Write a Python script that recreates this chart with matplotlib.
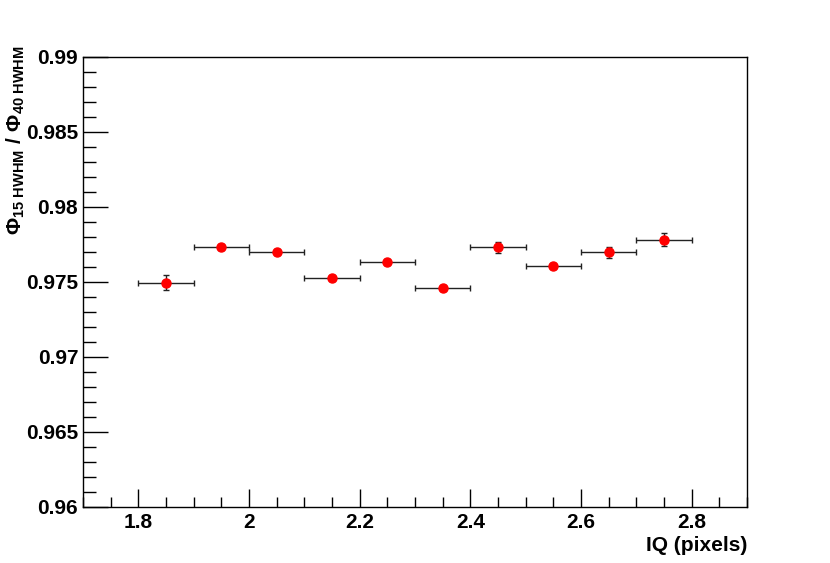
import matplotlib
matplotlib.use("Agg")
import matplotlib.pyplot as plt
from matplotlib.ticker import MultipleLocator

# IQ bin centres and half widths
iq = [1.85, 1.95, 2.05, 2.15, 2.25, 2.35, 2.45, 2.55, 2.65, 2.75]
iq_err = [0.05] * 10

# HWHM ratio and its error
ratio = [0.97493, 0.97731, 0.97702, 0.97524, 0.97636,
         0.97458, 0.97731, 0.97609, 0.97698, 0.97782]
ratio_err = [0.0005, 0.0002, 0.0002, 0.0002, 0.0002,
             0.0002, 0.00036, 0.0002, 0.00037, 0.00042]

plt.rcParams["font.family"] = ["Liberation Sans", "DejaVu Sans"]
plt.rcParams["font.weight"] = "bold"
plt.rcParams["mathtext.fontset"] = "custom"
plt.rcParams["mathtext.rm"] = "Liberation Sans:bold"
plt.rcParams["mathtext.it"] = "Liberation Sans:bold"
plt.rcParams["mathtext.bf"] = "Liberation Sans:bold"

fig = plt.figure(figsize=(8.3, 5.63), dpi=100)
ax = fig.add_axes([0.1, 0.0995, 0.8, 0.7995])

ax.errorbar(iq, ratio, xerr=iq_err, yerr=ratio_err, fmt="o",
            color="red", markersize=6.5, ecolor="#222222",
            elinewidth=1.0, capsize=2.5, capthick=1.0)

ax.set_xlim(1.7, 2.9)
ax.set_ylim(0.96, 0.99)
ax.xaxis.set_minor_locator(MultipleLocator(0.05))
ax.yaxis.set_minor_locator(MultipleLocator(0.001))
ax.set_xticks([1.8, 2.0, 2.2, 2.4, 2.6, 2.8])
ax.set_xticklabels(["1.8", "2", "2.2", "2.4", "2.6", "2.8"])
ax.set_yticks([0.96, 0.965, 0.97, 0.975, 0.98, 0.985, 0.99])
ax.set_yticklabels(["0.96", "0.965", "0.97", "0.975", "0.98", "0.985", "0.99"])

ax.tick_params(which="both", direction="in", top=False, right=False,
               labelsize=15, width=1.0)
ax.tick_params(axis="x", which="major", length=13, pad=4)
ax.tick_params(axis="x", which="minor", length=7)
ax.tick_params(axis="y", which="major", length=18, pad=3.5)
ax.tick_params(axis="y", which="minor", length=9)
for s in ax.spines.values():
    s.set_linewidth(1.0)

fig.text(0.9, 0.022, "IQ (pixels)", ha="right", va="baseline",
         fontsize=15, fontweight="bold")
fig.text(0.006, 0.92, r"$\Phi_{15\ HWHM}\ /\ \Phi_{40\ HWHM}$", rotation=90,
         ha="left", va="top", fontsize=15)

fig.savefig("out.png", dpi=100)
